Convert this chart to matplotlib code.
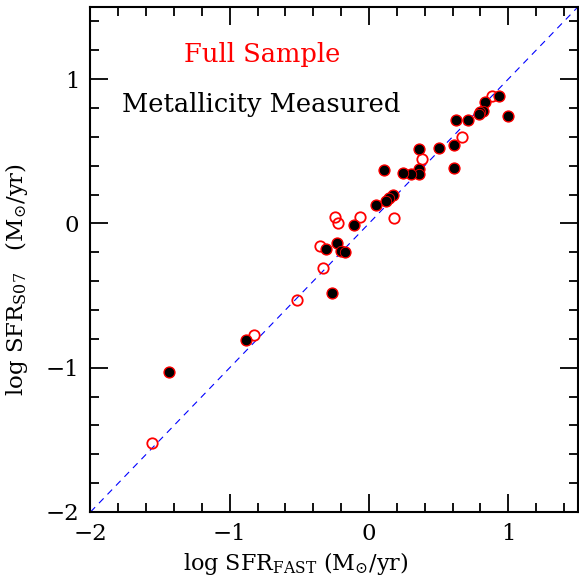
import matplotlib
matplotlib.use("Agg")
import matplotlib.pyplot as plt
from matplotlib.ticker import MultipleLocator

# Full-sample-only galaxies (open red circles)
open_x = [0.88, 0.668, 0.381, 0.183, -0.061, -0.242, -0.219, -0.35, -0.328, -0.515, -0.828, -1.561]
open_y = [0.884, 0.60, 0.444, 0.035, 0.047, 0.047, 0.0, -0.158, -0.308, -0.533, -0.771, -1.519]

# Galaxies with metallicity measured (filled black)
fill_x = [0.935, 0.833, 0.82, 0.80, 0.79, 0.995, 0.625, 0.711, 0.613, 0.50, 0.362, 0.613,
          0.362, 0.362, 0.305, 0.247, 0.111, 0.17, 0.147, 0.123, 0.052, -0.106, -0.307,
          -0.228, -0.204, -0.173, -0.269, -1.437, -0.88]
fill_y = [0.88, 0.842, 0.78, 0.77, 0.757, 0.745, 0.715, 0.715, 0.544, 0.523, 0.514, 0.387,
          0.375, 0.34, 0.34, 0.352, 0.368, 0.194, 0.178, 0.155, 0.125, -0.009, -0.18,
          -0.134, -0.192, -0.199, -0.481, -1.033, -0.806]

xlim = (-2, 1.5)
ylim = (-2, 1.5)

plt.rcParams['font.family'] = ['DejaVu Serif']
plt.rcParams['mathtext.fontset'] = 'dejavuserif'

fig = plt.figure(figsize=(5.79, 5.77), dpi=100)
ax = fig.add_axes([0.1563, 0.1127, 0.8417, 0.8752])

ax.plot(xlim, ylim, ls=(0, (6, 5)), color='blue', lw=0.8, zorder=1)

ax.plot(open_x + fill_x, open_y + fill_y, 'o', mfc='none', mec='red', mew=1.3, ms=7.5, zorder=2)
ax.plot(fill_x, fill_y, 'o', mfc='black', mec='red', mew=0.6, ms=7.5, zorder=3)

ax.set_xlim(*xlim)
ax.set_ylim(*ylim)
ax.xaxis.set_minor_locator(MultipleLocator(0.2))
ax.yaxis.set_minor_locator(MultipleLocator(0.2))
ax.tick_params(which='both', direction='in', top=True, right=True, width=1.3)
ax.tick_params(which='major', length=13, labelsize=16.5, pad=8)
ax.tick_params(which='minor', length=6.5)
for s in ax.spines.values():
    s.set_linewidth(1.5)
ax.set_xticks([-2, -1, 0, 1])
ax.set_xticklabels(['\u22122', '\u22121', '0', '1'])
ax.set_yticks([-2, -1, 0, 1])
ax.set_yticklabels(['\u22122', '\u22121', '0', '1'])

ax.set_xlabel(r'log SFR$_{\rm FAST}$ $(\mathrm{M}_{\odot}/\mathrm{yr})$', fontsize=16)
ax.xaxis.set_label_coords(0.42, -0.075)
ax.set_ylabel(r'log SFR$_{\rm S07}$   $(\mathrm{M}_{\odot}/\mathrm{yr})$', fontsize=16.5)
ax.yaxis.set_label_coords(-0.125, 0.46)

ax.text(0.353, 0.905, 'Full Sample', color='red', fontsize=18.5, ha='center', va='center',
        transform=ax.transAxes)
ax.text(0.351, 0.806, 'Metallicity Measured', color='black', fontsize=18.5, ha='center',
        va='center', transform=ax.transAxes)

fig.savefig('out.png', dpi=100)
